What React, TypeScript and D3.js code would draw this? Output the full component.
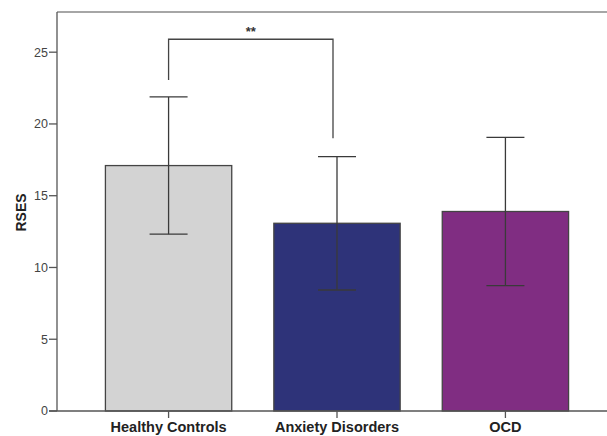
import React from "react";
import * as d3 from "d3";

const categories = ["Healthy Controls", "Anxiety Disorders", "OCD"];
const means = [17.1, 13.08, 13.9];
const errors = [4.78, 4.65, 5.17];
const colors = ["#d3d3d3", "#2e3379", "#802d82"];
const yTicks = [0, 5, 10, 15, 20, 25];
const bracketTop = 25.9;
const bracketLeftEnd = 23.07;
const bracketRightEnd = 19.0;
const sigLabel = "**";

export default function App() {
  const W = 607, H = 436;
  const left = 57, top = 12, bottom = 411;
  const x = d3.scaleBand<string>().domain(categories).range([left, 617]).paddingInner(0.25).paddingOuter(0.2875);
  const y = d3.scaleLinear().domain([0, 27.8]).range([bottom, top]);
  const bw = x.bandwidth();
  const cx = (c: string) => (x(c) as number) + bw / 2;
  const capHalf = 19;
  const axisColor = "#555";
  const errColor = "#3a3a3a";

  const bx1 = cx(categories[0]);
  const bx2 = cx(categories[1]) - 4;

  return (
    <svg width={W} height={H} style={{ position: "absolute", left: 0, top: 0, background: "#fff" }}
      fontFamily="'Liberation Sans', Arial, sans-serif">
      <line x1={left} x2={W} y1={top} y2={top} stroke="#888" strokeWidth={1.5} />
      {categories.map((c, i) => (
        <rect key={c} x={x(c)} y={y(means[i])} width={bw} height={y(0) - y(means[i])}
          fill={colors[i]} stroke="#444" strokeWidth={1.3} />
      ))}
      {categories.map((c, i) => {
        const px = cx(c);
        const hi = y(means[i] + errors[i]);
        const lo = y(means[i] - errors[i]);
        return (
          <g key={c} stroke={errColor} strokeWidth={1.3}>
            <line x1={px} x2={px} y1={hi} y2={lo} />
            <line x1={px - capHalf} x2={px + capHalf} y1={hi} y2={hi} />
            <line x1={px - capHalf} x2={px + capHalf} y1={lo} y2={lo} />
          </g>
        );
      })}
      <path d={`M${bx1},${y(bracketLeftEnd)}V${y(bracketTop)}H${bx2}V${y(bracketRightEnd)}`}
        fill="none" stroke="#444" strokeWidth={1.3} />
      <text x={(bx1 + bx2) / 2} y={y(bracketTop) - 3} textAnchor="middle" fontSize={13} fontWeight="bold" fill="#333">{sigLabel}</text>
      <line x1={left} x2={left} y1={top} y2={bottom} stroke={axisColor} strokeWidth={1.3} />
      {yTicks.map((t) => (
        <g key={t}>
          <line x1={left - 8} x2={left} y1={y(t)} y2={y(t)} stroke={axisColor} strokeWidth={1.3} />
          <text x={left - 9} y={y(t)} dy="0.35em" textAnchor="end" fontSize={12.5} fill="#444">{t}</text>
        </g>
      ))}
      <line x1={left - 8} x2={W} y1={bottom} y2={bottom} stroke={axisColor} strokeWidth={1.3} />
      {categories.map((c) => (
        <g key={c}>
          <line x1={cx(c)} x2={cx(c)} y1={bottom} y2={bottom + 7} stroke={axisColor} strokeWidth={1.3} />
          <text x={cx(c)} y={432} textAnchor="middle" fontSize={14.5} fontWeight="bold" fill="#222">{c}</text>
        </g>
      ))}
      <text transform={`translate(26,${(top + bottom) / 2 + 1}) rotate(-90)`} textAnchor="middle"
        fontSize={14} fontWeight="bold" fill="#222">RSES</text>
    </svg>
  );
}
